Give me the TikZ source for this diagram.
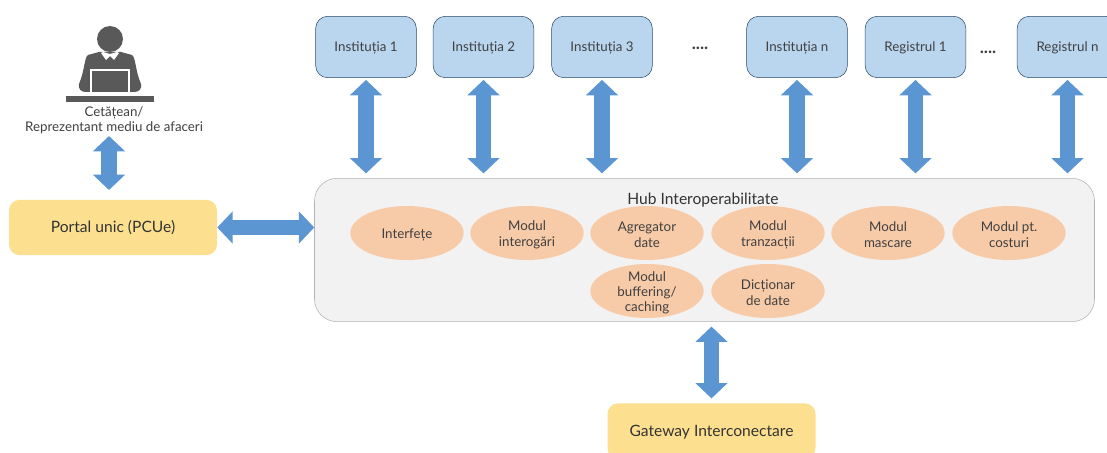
\documentclass[tikz,border=0pt]{standalone}
\usepackage{fontspec}
\setmainfont{Lato}
\usetikzlibrary{arrows.meta,shapes.geometric}
\definecolor{iconGray}{HTML}{595959}
\definecolor{textGray}{HTML}{404040}
\definecolor{arrowBlue}{HTML}{5B96D2}
\definecolor{sourceBlue}{HTML}{BAD5EE}
\definecolor{portalYellow}{HTML}{FCE08F}
\definecolor{modulePeach}{HTML}{F7CBA8}
\newcommand{\toplift}{\rule{0pt}{10pt}}
\tikzset{
  source/.style={draw=black!50!arrowBlue,fill=sourceBlue,rounded corners=9pt,minimum width=75.5pt,minimum height=46pt,text height=9.5pt,text depth=2.5pt,font=\fontsize{10}{12}\selectfont,text=textGray},
  portal/.style={fill=portalYellow,rounded corners=8pt,minimum width=156pt,minimum height=41.5pt,text height=11pt,text depth=3pt,font=\fontsize{11.7}{14}\selectfont,text=black!80},
  module/.style={ellipse,fill=modulePeach,minimum width=85pt,minimum height=40.5pt,inner xsep=0pt,inner ysep=-7pt,align=center,font=\fontsize{10}{11.5}\selectfont,text=textGray},
  biarrow/.style={arrowBlue,line width=11.5pt,{Triangle[width=23.5pt,length=11.5pt]}-{Triangle[width=23.5pt,length=11.5pt]}},
  dots/.style={font=\bfseries\fontsize{13}{15}\selectfont,text=textGray}
}
\begin{document}
\begin{tikzpicture}[x=.75pt,y=-.75pt]
\clip (0,0) rectangle (1107,453);
\useasboundingbox (0,0) rectangle (1107,453);
\fill[white] (0,0) rectangle (1107,453);
\fill[iconGray] (110,39) circle (13);
\fill[iconGray] (99,52) -- (88,55) .. controls (84,58) and (85,70) .. (79,84) .. controls (78,89) and (81,92) .. (86,92) -- (134,92) .. controls (139,92) and (142,89) .. (141,84) .. controls (135,70) and (136,58) .. (132,55) -- (121,52) -- cycle;
\fill[white] (101,53) -- (106,60) -- (110,56) -- (114,60) -- (119,53) -- (117,52) -- (110,54) -- (103,52) -- cycle;
\draw[white,fill=iconGray,line width=.9pt] (91,92) -- (91,70) -- (129,70) -- (129,92);
\fill[iconGray] (66,96) rectangle (154,102);
\node[font=\fontsize{10}{11.3}\selectfont,text=textGray,align=center] (citizen) at (114,120.5) {Cetățean/\\Reprezentant mediu de afaceri};
\node[source] (inst1) at (366,47) {Instituția 1};
\node[source] (inst2) at (483.5,47) {Instituția 2};
\node[source] (inst3) at (602,47) {Instituția 3};
\node[source] (instn) at (797,47) {Instituția n};
\node[source] (reg1) at (915.5,47) {Registrul 1};
\node[source] (regn) at (1067.5,47) {Registrul n};
\node[dots] (dotsinst) at (700,48) {....};
\node[dots] (dotsreg) at (988,52) {....};
\node[draw=black!30,fill=black!5,rounded corners=17pt,minimum width=585pt,minimum height=107.5pt] (hub) at (704.5,250) {};
\node[font=\fontsize{11.7}{14}\selectfont,text=black!80] (hubtitle) at (703,200.5) {Hub Interoperabilitate};
\node[module] (interfete) at (407,233) {\toplift Interfețe};
\node[module] (interogari) at (527,233) {\toplift Modul\\interogări};
\node[module] (agregator) at (647,233) {\toplift Agregator\\date};
\node[module] (tranzactii) at (768,233) {\toplift Modul\\tranzacții};
\node[module] (mascare) at (888,233) {\toplift Modul\\mascare};
\node[module] (costuri) at (1009,233) {\toplift Modul pt.\\costuri};
\node[module] (buffering) at (647,291) {\toplift Modul\\buffering/\\caching};
\node[module] (dictionar) at (768,291) {\toplift Dicționar\\de date};
\node[portal] (pcue) at (113,227.5) {Portal unic (PCUe)};
\node[portal] (gateway) at (711.5,431) {Gateway Interconectare};
\coordinate (citizenend) at (109,136);
\coordinate (pcueend) at (109,190);
\draw[biarrow,shorten <=1.5pt,shorten >=3.5pt] (inst1.south) -- (inst1.south |- hub.north);
\draw[biarrow,shorten <=1.5pt,shorten >=3.5pt] (inst2.south) -- (inst2.south |- hub.north);
\draw[biarrow,shorten <=1.5pt,shorten >=3.5pt] (inst3.south) -- (inst3.south |- hub.north);
\draw[biarrow,shorten <=1.5pt,shorten >=3.5pt] (instn.south) -- (instn.south |- hub.north);
\draw[biarrow,shorten <=1.5pt,shorten >=3.5pt] (reg1.south) -- (reg1.south |- hub.north);
\draw[biarrow,shorten <=1.5pt,shorten >=3.5pt] (regn.south) -- (regn.south |- hub.north);
\draw[biarrow] (citizenend) -- (pcueend);
\draw[biarrow] (pcue.east) -- (pcue.east -| hub.west);
\draw[biarrow,shorten <=3.5pt,shorten >=3.5pt] (gateway.north |- hub.south) -- (gateway.north);
\end{tikzpicture}
\end{document}
